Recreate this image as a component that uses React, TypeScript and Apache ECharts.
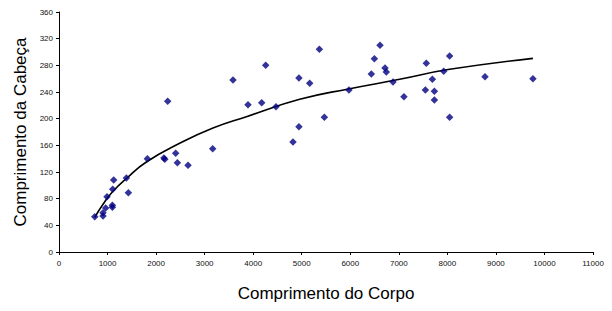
import React, { useEffect, useRef } from "react";
import * as echarts from "echarts";

const bodyLength = [
  737, 906, 906, 962, 1100, 1100, 989, 1106, 1127, 1388, 1429, 1821, 2160, 2180,
  2239, 2404, 2439, 2658, 3166, 3584, 4258, 3893, 4175, 4470, 4820, 4943, 4943,
  5164, 5363, 5466, 5973, 6612, 6496, 6434, 6715, 6743, 6880, 7106, 7567, 7547,
  7691, 7732, 7732, 7924, 8047, 8047, 8775, 9763,
];
const headLength = [
  53, 59, 54, 66, 70, 67, 83, 94, 108, 111, 89, 140, 141, 139,
  226, 148, 134, 130, 155, 258, 280, 221, 224, 218, 165, 188, 261,
  253, 304, 202, 243, 310, 290, 267, 276, 270, 255, 233, 283, 243,
  259, 241, 228, 271, 294, 202, 263, 260,
];

// logarithmic trendline
const trendX = [737, 900, 1112, 1400, 1800, 2486, 3172, 3860, 4958, 5988, 7017, 8047, 9763];
const trendY = [52, 71, 91, 111, 135, 163, 186, 203, 229, 245, 259, 274, 290.5];

const xTicks = { min: 0, max: 11000, interval: 1000 };
const yTicks = { min: 0, max: 360, interval: 40 };

export default function App() {
  const ref = useRef<HTMLDivElement>(null);
  useEffect(() => {
    if (!ref.current) return;
    const chart = echarts.init(ref.current, null, { renderer: "svg" });
    const labelStyle = { color: "#111", fontSize: 8, fontFamily: "Liberation Sans, Arial" };
    const titleStyle = { color: "#000", fontSize: 17, fontFamily: "Liberation Sans, Arial" };
    chart.setOption({
      animation: false,
      grid: { left: 59, right: 19, top: 12, bottom: 59 },
      xAxis: {
        type: "value",
        ...xTicks,
        name: "Comprimento do Corpo",
        nameLocation: "middle",
        nameGap: 33,
        nameTextStyle: titleStyle,
        axisLine: { show: true, lineStyle: { color: "#000", width: 1 } },
        axisTick: { show: true, length: 3, lineStyle: { color: "#000" } },
        axisLabel: { ...labelStyle, margin: 7, formatter: (v: number) => String(v) },
        splitLine: { show: false },
      },
      yAxis: {
        type: "value",
        ...yTicks,
        name: "Comprimento da Cabeça",
        nameLocation: "middle",
        nameGap: 30,
        nameTextStyle: titleStyle,
        axisLine: { show: true, lineStyle: { color: "#000", width: 1 } },
        axisTick: { show: true, length: 3, lineStyle: { color: "#000" } },
        axisLabel: { ...labelStyle, margin: 6, formatter: (v: number) => String(v) },
        splitLine: { show: false },
      },
      series: [
        {
          type: "scatter",
          data: bodyLength.map((x, i) => [x, headLength[i]]),
          symbol: "diamond",
          symbolSize: 7.5,
          itemStyle: { color: "#000080" },
          z: 3,
        },
        {
          type: "line",
          data: trendX.map((x, i) => [x, trendY[i]]),
          smooth: true,
          showSymbol: false,
          symbol: "none",
          lineStyle: { color: "#000", width: 1.6 },
          z: 2,
        },
      ],
    });
    return () => chart.dispose();
  }, []);
  return <div ref={ref} style={{ width: 612, height: 311, margin: -8 }} />;
}
